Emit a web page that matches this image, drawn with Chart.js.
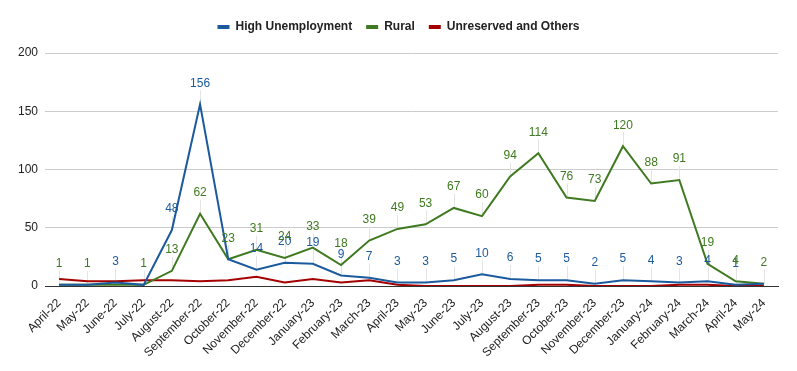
<!DOCTYPE html>
<html lang="en">
<head>
    <meta charset="UTF-8">
    <title>Applications by category</title>
    <style>
        body {
            margin: 0;
            background: #fff;
        }

        #chart-container {
            width: 797px;
            height: 371px;
        }
    </style>
</head>
<body>
    <div id="chart-container">
        <canvas id="trend-chart"></canvas>
    </div>

    <script src="https://cdn.jsdelivr.net/npm/chart.js"></script>
    <script>
        const months = [
            'April-22', 'May-22', 'June-22', 'July-22', 'August-22', 'September-22',
            'October-22', 'November-22', 'December-22', 'January-23', 'February-23',
            'March-23', 'April-23', 'May-23', 'June-23', 'July-23', 'August-23',
            'September-23', 'October-23', 'November-23', 'December-23', 'January-24',
            'February-24', 'March-24', 'April-24', 'May-24'
        ];

        const highUnemployment = [1, 1, 3, 1, 48, 156, 23, 14, 20, 19, 9, 7, 3, 3, 5, 10, 6, 5, 5, 2, 5, 4, 3, 4, 1, 2];
        const rural = [1, 1, 1, 1, 13, 62, 23, 31, 24, 33, 18, 39, 49, 53, 67, 60, 94, 114, 76, 73, 120, 88, 91, 19, 4, 2];
        const unreservedOthers = [6, 4, 4, 5, 5, 4, 5, 8, 3, 6, 3, 5, 1, 0, 0, 0, 0, 1, 1, 0, 0, 0, 1, 1, 0, 0];

        const yTicks = [0, 50, 100, 150, 200];

        const fontFamily = "Arial, 'Liberation Sans', sans-serif";

        // labels sitting almost on top of each other: same value -> green only, different -> blue only
        function labelVisible(chart, i, j) {
            const a = chart.getDatasetMeta(0).data[j];
            const b = chart.getDatasetMeta(1).data[j];
            if (Math.abs(a.y - b.y) >= 3) return true;
            const same = chart.data.datasets[0].data[j] === chart.data.datasets[1].data[j];
            return i === 0 ? !same : same;
        }

        // labels above points with a thin grey leader line
        const pointLabels = {
            id: 'pointLabels',
            beforeDatasetsDraw(chart) {
                const ctx = chart.ctx;
                ctx.save();
                ctx.strokeStyle = '#e4e4e4';
                ctx.lineWidth = 1;
                [0, 1].forEach(i => {
                    chart.getDatasetMeta(i).data.forEach(pt => {
                        ctx.beginPath();
                        ctx.moveTo(Math.round(pt.x) + 0.5, pt.y);
                        ctx.lineTo(Math.round(pt.x) + 0.5, pt.y - 14);
                        ctx.stroke();
                    });
                });
                ctx.restore();
            },
            afterDatasetsDraw(chart) {
                const ctx = chart.ctx;
                ctx.save();
                ctx.font = '12px ' + fontFamily;
                ctx.textAlign = 'center';
                ctx.textBaseline = 'middle';
                [0, 1].forEach(i => {
                    const ds = chart.data.datasets[i];
                    ctx.fillStyle = ds.borderColor;
                    chart.getDatasetMeta(i).data.forEach((pt, j) => {
                        if (labelVisible(chart, i, j)) {
                            ctx.fillText(ds.data[j], pt.x, pt.y - 21);
                        }
                    });
                });
                ctx.restore();
            }
        };

        const chart = new Chart(document.getElementById('trend-chart'), {
            type: 'line',
            data: {
                labels: months,
                datasets: [
                    { label: 'High Unemployment', data: highUnemployment, borderColor: '#1c5a9e', backgroundColor: '#1c5a9e', xAxisID: 'x', yAxisID: 'y' },
                    { label: 'Rural', data: rural, borderColor: '#3f7a20', backgroundColor: '#3f7a20', xAxisID: 'x', yAxisID: 'y' },
                    { label: 'Unreserved and Others', data: unreservedOthers, borderColor: '#a40000', backgroundColor: '#a40000', xAxisID: 'x', yAxisID: 'y' }
                ]
            },
            options: {
                responsive: true,
                maintainAspectRatio: false,
                animation: false,
                datasets: {
                    line: {
                        borderWidth: 2,
                        pointRadius: 0,
                        tension: 0
                    }
                },
                layout: {
                    padding: { left: 0, right: 0, top: 7, bottom: 0 }
                },
                plugins: {
                    legend: {
                        position: 'top',
                        labels: {
                            boxWidth: 12,
                            boxHeight: 4,
                            padding: 14,
                            color: '#222',
                            font: { family: fontFamily, size: 12, weight: 'bold' },
                            generateLabels(chart) {
                                return chart.data.datasets.map((ds, i) => ({
                                    text: ds.label,
                                    fillStyle: ds.borderColor,
                                    strokeStyle: ds.borderColor,
                                    lineWidth: 0,
                                    fontColor: '#222',
                                    datasetIndex: i
                                }));
                            }
                        }
                    },
                    tooltip: { enabled: false }
                },
                scales: {
                    x: {
                        offset: true,
                        grid: { display: false },
                        border: { display: true, color: '#333', width: 1 },
                        ticks: {
                            autoSkip: false,
                            minRotation: 45,
                            maxRotation: 45,
                            padding: 2,
                            color: '#222',
                            font: { family: fontFamily, size: 12 }
                        },
                        afterFit(scale) {
                            scale.height = 85;
                        }
                    },
                    y: {
                        min: 0,
                        max: 200,
                        afterBuildTicks(scale) {
                            scale.ticks = yTicks.map(v => ({ value: v }));
                        },
                        grid: {
                            color: '#cccccc',
                            drawTicks: false
                        },
                        border: { display: false },
                        ticks: {
                            padding: 7,
                            color: '#222',
                            font: { family: fontFamily, size: 12 }
                        },
                        afterFit(scale) {
                            scale.width = 45;
                        }
                    },
                    // empty spacer axes so the legend stays centred on the page
                    xTop: {
                        type: 'category',
                        position: 'top',
                        grid: { display: false },
                        border: { display: false },
                        ticks: { display: false },
                        afterFit(scale) {
                            scale.height = 10;
                        }
                    },
                    yRight: {
                        type: 'linear',
                        position: 'right',
                        grid: { display: false },
                        border: { display: false },
                        ticks: { display: false },
                        afterFit(scale) {
                            scale.width = 19;
                        }
                    }
                }
            },
            plugins: [pointLabels]
        });
    </script>
</body>
</html>
